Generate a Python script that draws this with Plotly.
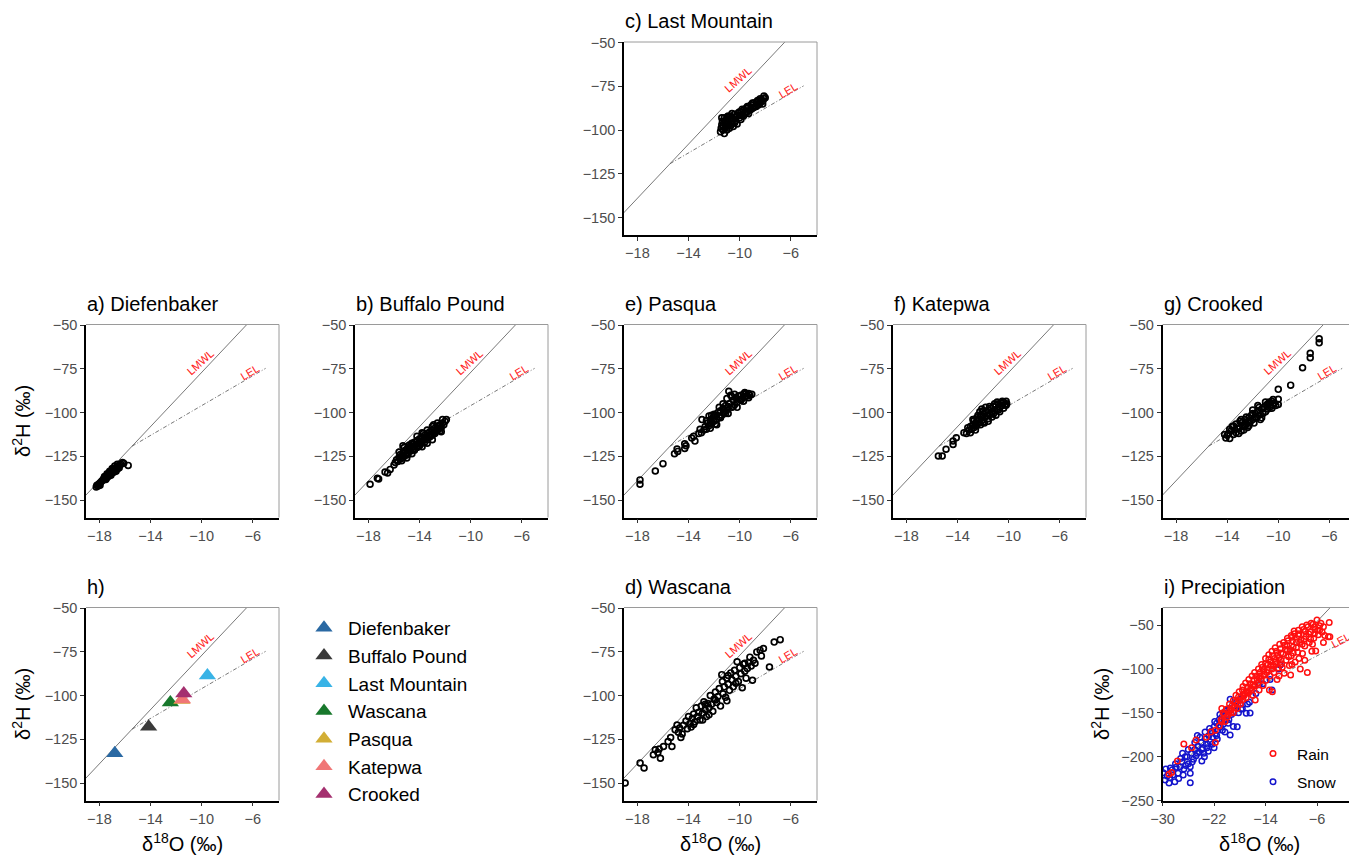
import plotly.graph_objects as go

W, H = 1349, 856

# ---------------- reference lines (slope, intercept) ----------------
LMWL = (7.75, 0.5)
LEL = (4.26, -53.4)
LEL_PRECIP = (3.86, -61.96)

# ---------------- data (d18O, d2H) ----------------
diefenbaker = [(-18.25, -142.5), (-18.2, -141.5), (-18.1, -142), (-18.05, -141), (-18.0, -140.5), (-17.95, -141.5),
               (-17.8, -139), (-17.7, -138.5), (-17.65, -137.5), (-17.6, -138), (-17.55, -137), (-17.5, -136.5),
               (-17.45, -137.5), (-17.4, -136), (-17.35, -135.5), (-17.3, -136.5), (-17.25, -135), (-17.2, -134.5),
               (-17.15, -135.5), (-17.1, -134), (-17.05, -133.5), (-17.0, -134.5), (-16.95, -133), (-16.9, -132.5),
               (-16.85, -134), (-16.8, -132), (-16.75, -133), (-16.7, -131.5), (-16.65, -132.5), (-16.6, -131),
               (-16.55, -132), (-16.5, -130.5), (-16.45, -131.5), (-16.4, -130), (-16.3, -129.5), (-16.2, -128.5),
               (-16.1, -129), (-15.75, -130.2), (-17.6, -136.5), (-17.4, -135), (-17.2, -133.5), (-17.0, -132),
               (-16.8, -130.5), (-16.6, -129.5), (-17.9, -139.8), (-17.5, -138.3), (-17.1, -135.8), (-16.7, -133.6)]

buffalo_pound = [(-17.87, -141), (-17.3, -137.5), (-17.2, -138), (-16.7, -134), (-16.5, -134.5), (-16.3, -132.5),
                 (-16.0, -130), (-15.9, -128.5), (-15.8, -127), (-15.7, -128), (-15.6, -125.5), (-15.5, -126.5),
                 (-15.5, -124), (-15.4, -125), (-15.3, -123), (-15.3, -119), (-15.2, -122.5), (-15.1, -124.5),
                 (-15.0, -121), (-15.0, -123.5), (-14.9, -120.5), (-14.8, -121.5), (-14.7, -119), (-14.7, -122),
                 (-14.6, -120), (-14.5, -118), (-14.4, -119.5), (-14.4, -117), (-14.3, -118.5), (-14.2, -116),
                 (-14.1, -117.5), (-14.0, -115), (-14.0, -119), (-13.9, -116.5), (-13.8, -114), (-13.7, -115.5),
                 (-13.6, -113), (-13.6, -117), (-13.5, -114.5), (-13.4, -112), (-13.3, -113.5), (-13.2, -111),
                 (-13.1, -112.5), (-13.0, -110), (-12.9, -111.5), (-12.8, -109), (-12.7, -110.5), (-12.6, -108),
                 (-12.5, -109.5), (-12.4, -107), (-12.3, -108.5), (-12.2, -106), (-12.1, -107), (-12.0, -105),
                 (-11.9, -104), (-15.3, -126), (-14.9, -124), (-14.5, -121), (-14.1, -119.5), (-13.8, -117.5),
                 (-13.4, -115.5), (-13.0, -113), (-12.6, -110), (-15.6, -122.5), (-15.4, -127.5), (-15.2, -120),
                 (-15.0, -126), (-14.8, -118.5), (-14.6, -123.5), (-14.4, -121.5), (-14.2, -120), (-14.2, -113.5),
                 (-14.0, -117), (-13.8, -111.5), (-13.8, -119.5), (-13.6, -115), (-13.4, -110), (-13.4, -117.5),
                 (-13.2, -114), (-13.0, -108), (-13.0, -115.5), (-12.8, -112), (-12.6, -106), (-12.4, -110.5),
                 (-12.2, -104), (-12.3, -111), (-12.9, -107), (-13.7, -112), (-14.6, -117.5), (-15.1, -121.5)]

pasqua = [(-17.8, -138.5), (-17.8, -141), (-16.6, -133.4), (-16.0, -129.2), (-15.1, -123.5), (-14.9, -120.8),
          (-14.85, -122.2), (-14.3, -117.8), (-14.3, -120.5), (-14.2, -119), (-13.75, -114.5), (-13.5, -116.3),
          (-13.6, -113.5), (-13.2, -112), (-12.95, -104), (-13.1, -109.5), (-13.0, -111.5), (-12.8, -110),
          (-12.7, -108), (-12.6, -109.5), (-12.5, -106), (-12.4, -107.5), (-12.3, -104.5), (-12.2, -106.5),
          (-12.1, -103), (-12.0, -105), (-11.9, -101.5), (-11.8, -104), (-11.7, -100), (-11.6, -102.5),
          (-11.5, -99), (-11.4, -101.5), (-11.3, -97.5), (-11.2, -100), (-11.1, -96), (-11.0, -98.5),
          (-11.0, -92), (-10.85, -87.8), (-10.7, -90), (-10.8, -95), (-10.6, -97), (-10.5, -93),
          (-10.4, -95.5), (-10.3, -91.5), (-10.2, -94), (-10.1, -90.5), (-10.0, -92.5), (-9.9, -90),
          (-9.8, -92), (-9.7, -89.5), (-9.6, -91), (-9.5, -89), (-9.4, -90.5), (-9.3, -89), (-9.2, -90),
          (-9.05, -89.5), (-12.3, -109), (-11.9, -106.5), (-11.5, -103), (-11.1, -100.5), (-10.9, -100.5),
          (-10.5, -96.5), (-12.2, -101.5), (-12.6, -104.5), (-12.0, -101), (-11.8, -107), (-11.3, -95),
          (-10.9, -96.5), (-10.6, -91), (-10.2, -97), (-9.9, -93), (-9.6, -88.5), (-9.3, -91.5), (-9.7, -93.5),
          (-10.4, -89.5), (-11.6, -97), (-12.4, -102)]

katepwa = [(-15.5, -124.8), (-15.2, -124.8), (-14.9, -121), (-14.35, -118.2), (-14.35, -116.3), (-14.1, -114.4),
           (-13.5, -111.5), (-13.3, -112), (-13.2, -108.6), (-13.1, -110), (-13.0, -108), (-12.9, -109.5),
           (-12.8, -107), (-12.7, -108.5), (-12.6, -106), (-12.5, -107.5), (-12.4, -104), (-12.3, -106),
           (-12.26, -99.5), (-12.2, -102), (-12.1, -104.5), (-12.0, -101), (-11.9, -103), (-11.8, -99.5),
           (-11.7, -102), (-11.6, -98.5), (-11.5, -101), (-11.4, -97.5), (-11.3, -100), (-11.2, -96.5),
           (-11.1, -99), (-11.0, -96), (-10.9, -98), (-10.8, -95), (-10.7, -97), (-10.6, -94.5), (-10.5, -96),
           (-10.4, -94), (-10.3, -95.5), (-10.2, -93.5), (-10.15, -95), (-12.0, -105.5), (-11.6, -103.5),
           (-11.2, -101), (-10.8, -98.5), (-12.5, -103), (-12.1, -98), (-12.8, -104), (-12.6, -110),
           (-12.4, -101.5), (-12.2, -107), (-12.0, -99), (-11.9, -106), (-11.8, -97), (-11.6, -105),
           (-11.5, -96.5), (-11.3, -102.5), (-11.1, -95), (-11.0, -101.5), (-10.9, -94), (-10.7, -99.5),
           (-10.5, -93.5), (-10.4, -97.5), (-10.2, -95.8), (-13.0, -111.5), (-12.7, -104.5)]

crooked = [(-14.1, -114.5), (-14.0, -113), (-13.9, -112), (-13.8, -114.8), (-13.7, -110.5), (-13.6, -108),
           (-13.5, -112.5), (-13.5, -107.7), (-13.4, -110), (-13.3, -111.5), (-13.2, -109), (-13.1, -112),
           (-13.0, -108.5), (-12.9, -110.5), (-12.8, -105.5), (-12.7, -107.5), (-12.6, -104), (-12.5, -106.5),
           (-12.4, -108.5), (-12.3, -103), (-12.2, -105.5), (-12.1, -101.5), (-12.0, -104), (-11.9, -106),
           (-11.8, -100.5), (-11.7, -103), (-11.6, -99), (-11.5, -101.5), (-11.4, -104), (-11.3, -98),
           (-11.2, -100.5), (-11.1, -97), (-11.0, -99.5), (-10.9, -95.5), (-10.8, -98), (-10.7, -94),
           (-10.6, -96.5), (-10.5, -93.5), (-10.4, -95.5), (-10.3, -94.5), (-10.2, -96), (-10.0, -95.3),
           (-10.0, -92.4), (-10.0, -86.7), (-9.03, -84.3), (-8.1, -74.3), (-7.5, -68.6), (-7.5, -66.1),
           (-6.8, -60.1), (-6.8, -57.8), (-12.0, -100.5), (-11.5, -97), (-12.6, -108), (-13.0, -105),
           (-13.3, -106.5), (-12.9, -104), (-12.5, -102.5), (-12.3, -107.5), (-12.0, -98.5), (-11.8, -102.5),
           (-11.6, -96), (-11.3, -103), (-11.0, -94), (-10.8, -95), (-10.5, -97.5), (-10.4, -92.5),
           (-13.8, -109.5), (-14.2, -112.5), (-12.7, -110)]

last_mountain = [(-11.5, -101), (-11.45, -99), (-11.4, -97), (-11.35, -95), (-11.3, -100), (-11.2, -93),
                 (-11.15, -96), (-11.1, -98.5), (-11.0, -92.5), (-10.95, -95), (-10.9, -97.5), (-10.8, -94),
                 (-10.7, -92), (-10.6, -96), (-10.5, -93.5), (-10.4, -91), (-10.3, -94.5), (-10.2, -92),
                 (-10.1, -90), (-10.0, -93), (-9.9, -89.5), (-9.8, -91.5), (-9.7, -88.5), (-9.6, -90.5),
                 (-9.5, -87.5), (-9.4, -89.5), (-9.3, -86.5), (-9.2, -88.5), (-9.1, -85.5), (-9.0, -87.5),
                 (-8.9, -84.5), (-8.8, -86.5), (-8.7, -84), (-8.6, -85.5), (-8.5, -83), (-8.4, -84.5),
                 (-8.3, -82.5), (-8.2, -83.5), (-8.1, -82), (-8.0, -81.5), (-10.7, -97.5), (-10.4, -96),
                 (-9.95, -91.5), (-11.0, -100), (-11.3, -97.5), (-11.2, -102), (-11.0, -97), (-10.9, -92),
                 (-10.8, -99), (-10.6, -93), (-10.5, -98), (-10.3, -92.5), (-10.2, -96.5), (-10.0, -89.5),
                 (-9.9, -94), (-9.8, -88), (-9.7, -92), (-9.5, -90), (-9.4, -86.5), (-9.3, -90.5), (-9.1, -88),
                 (-9.0, -84.5), (-8.9, -87), (-8.7, -86.5), (-8.6, -83), (-8.5, -85.5), (-8.4, -82), (-8.2, -85),
                 (-8.1, -80.5), (-11.4, -93), (-11.1, -94.5), (-10.6, -90.5)]

wascana = [(-18.96, -150), (-17.79, -138.6), (-17.48, -141.4), (-16.75, -133.8), (-16.6, -131), (-16.4, -132.5),
           (-16.2, -135.8), (-16.3, -130.5), (-15.96, -129.1), (-15.3, -129.1), (-15.6, -126.3), (-15.4, -124),
           (-15.05, -119.6), (-14.9, -116.8), (-14.8, -121), (-14.7, -118.5), (-14.5, -122), (-14.4, -117),
           (-14.2, -114.5), (-14.1, -119), (-14.0, -112), (-13.9, -116), (-13.7, -113), (-13.6, -110.5),
           (-13.5, -115), (-13.4, -107), (-13.3, -112), (-13.2, -109.5), (-13.1, -114), (-13.0, -106),
           (-12.9, -110), (-12.8, -103.5), (-12.7, -108), (-12.6, -112), (-12.5, -104.5), (-12.4, -107),
           (-12.3, -100), (-12.2, -105), (-12.1, -109), (-12.0, -102), (-11.9, -98), (-11.8, -104),
           (-11.7, -100.5), (-11.6, -96), (-11.5, -106), (-11.4, -88), (-11.35, -92), (-11.3, -99),
           (-11.2, -95), (-11.1, -101), (-11.0, -90), (-10.9, -93.5), (-10.8, -97), (-10.7, -87),
           (-10.6, -91), (-10.5, -95), (-10.4, -85.5), (-10.3, -89), (-10.2, -80.6), (-10.1, -92),
           (-10.0, -84), (-9.9, -87.5), (-9.8, -95.5), (-9.7, -82), (-9.6, -86), (-9.5, -90), (-9.4, -84.5),
           (-9.3, -81), (-9.2, -78), (-9.1, -83), (-9.0, -91.2), (-8.92, -79.8), (-8.8, -81.5), (-8.66, -75),
           (-8.4, -74), (-8.3, -77.3), (-8.14, -73.1), (-7.67, -83.6), (-7.3, -69.4), (-6.83, -68),
           (-12.9, -114), (-13.8, -118), (-14.6, -124), (-11.0, -103), (-12.4, -111), (-13.6, -116.5),
           (-12.7, -105), (-11.9, -102.5), (-10.9, -88.5), (-10.3, -93), (-9.6, -81.5)]

rain = [(-29.0, -220), (-28.6, -218), (-27.7, -205), (-26.7, -185.5), (-25.5, -190), (-24.8, -181), (-21.8, -184),
        (-21.8, -170), (-22.5, -172), (-23.2, -178), (-20.8, -160), (-20.8, -145), (-20.4, -152), (-20.0, -155),
        (-19.6, -148), (-19.2, -142), (-19.0, -150), (-18.7, -138), (-18.4, -145), (-18.2, -132), (-17.9, -140),
        (-17.6, -124), (-17.5, -135), (-17.2, -128), (-17.0, -133), (-16.8, -121), (-16.6, -127), (-16.4, -117),
        (-16.2, -124), (-16.0, -130), (-15.8, -112), (-15.6, -135.5), (-15.6, -119), (-15.4, -108), (-15.2, -116),
        (-15.0, -124), (-14.9, -104), (-14.7, -112), (-14.5, -98), (-14.4, -119), (-14.2, -106), (-14.0, -94),
        (-13.9, -113), (-13.7, -101), (-13.5, -89), (-13.4, -123.9), (-13.3, -108), (-13.1, -96), (-12.94, -126),
        (-12.9, -85), (-12.7, -104), (-12.5, -92), (-12.3, -80), (-12.2, -112), (-12.0, -99), (-11.9, -87),
        (-11.7, -77), (-11.5, -94), (-11.3, -83), (-11.1, -105), (-11.0, -73), (-10.8, -90), (-10.6, -79),
        (-10.5, -68), (-10.3, -96), (-10.1, -107), (-10.0, -85), (-9.9, -64), (-9.7, -75), (-9.56, -56.8),
        (-9.4, -92), (-9.2, -70), (-9.0, -81), (-8.8, -60), (-8.6, -100), (-8.5, -67), (-8.25, -82.3),
        (-8.1, -55), (-7.9, -74), (-7.7, -63), (-7.5, -104), (-7.4, -52), (-7.2, -70), (-7.0, -58), (-6.8, -80),
        (-6.6, -49), (-6.5, -65), (-6.3, -55), (-6.2, -79.6), (-6.0, -44.3), (-5.8, -61), (-5.6, -50.8),
        (-5.6, -55.8), (-5.2, -58), (-5.0, -70), (-4.8, -62), (-4.24, -63.3), (-4.0, -63.3), (-4.1, -47),
        (-13.6, -95), (-12.6, -88), (-11.6, -82), (-10.7, -73), (-9.8, -68), (-8.9, -62), (-7.8, -57),
        (-15.0, -110), (-16.0, -118), (-17.0, -126), (-18.0, -136), (-19.4, -150), (-14.3, -102), (-11.4, -98),
        (-12.4, -95), (-8.3, -72), (-7.0, -66), (-6.4, -60), (-13.0, -100), (-10.2, -78),
        (-21.2, -165), (-20.9, -158), (-20.6, -150), (-20.3, -160), (-20.1, -146), (-19.8, -152), (-19.6, -140),
        (-19.3, -146), (-19.0, -136), (-18.8, -144), (-18.6, -130), (-18.3, -140), (-18.1, -126), (-17.8, -132),
        (-17.5, -120), (-17.3, -130), (-17.1, -116), (-16.8, -126), (-16.6, -112), (-16.3, -122), (-16.1, -108),
        (-15.9, -120), (-15.7, -104), (-15.3, -112), (-15.1, -100), (-14.8, -108), (-14.6, -95), (-14.2, -100),
        (-14.0, -88), (-13.8, -104), (-13.5, -84), (-13.2, -92), (-13.0, -80), (-12.8, -96), (-12.5, -76),
        (-12.1, -84), (-11.8, -72), (-11.6, -90), (-11.2, -70), (-10.9, -78), (-10.6, -65), (-10.4, -86),
        (-10.0, -62), (-9.7, -82), (-9.5, -60), (-9.2, -76), (-8.9, -56), (-8.7, -70), (-8.3, -52), (-8.0, -66),
        (-7.6, -50), (-7.3, -60), (-6.9, -48), (-6.7, -72), (-6.4, -52), (-5.9, -56), (-5.4, -48), (-5.0, -52),
        (-8.8, -88), (-9.9, -95), (-7.9, -90), (-11.9, -108)]

snow = [(-29.9, -218.3), (-29.6, -226.6), (-29.3, -222), (-28.9, -224), (-28.1, -228.5), (-28.5, -215),
        (-27.9, -212), (-27.3, -211.5), (-27.0, -206), (-26.7, -214), (-26.5, -200), (-26.2, -200),
        (-26.0, -208), (-25.7, -229.7), (-25.7, -219), (-25.7, -211.5), (-25.5, -196), (-25.2, -203),
        (-25.0, -192), (-24.8, -199), (-24.5, -188), (-24.3, -195), (-24.0, -184), (-23.8, -190.5),
        (-23.6, -196.2), (-23.5, -200), (-23.3, -180), (-23.0, -186), (-22.8, -176), (-22.6, -183),
        (-22.4, -171), (-22.2, -178), (-22.0, -166), (-21.8, -174), (-21.6, -162), (-21.4, -170),
        (-21.2, -158), (-21.0, -166), (-20.8, -155), (-20.6, -163), (-20.4, -150), (-20.2, -158),
        (-20.0, -147), (-19.8, -162), (-19.6, -145), (-19.5, -134.7), (-19.5, -175.4), (-19.3, -152),
        (-19.0, -165.6), (-18.8, -142), (-18.4, -165.9), (-18.2, -150), (-18.0, -135), (-17.9, -140),
        (-17.6, -145), (-17.0, -150.6), (-16.5, -138), (-16.4, -150.3), (-16.0, -130), (-15.5, -128),
        (-14.4, -117), (-13.0, -124), (-13.3, -112), (-11.7, -95.5), (-12.0, -100), (-24.6, -176),
        (-22.9, -194), (-21.5, -180), (-20.3, -172), (-26.8, -221), (-27.6, -219), (-28.8, -213),
        (-23.9, -205), (-22.0, -190), (-17.5, -130), (-15.0, -118), (-29.5, -214), (-29.0, -230),
        (-28.4, -221), (-28.0, -208), (-27.5, -225), (-27.2, -202), (-26.9, -196), (-26.4, -210),
        (-26.0, -192), (-25.4, -206), (-25.0, -184), (-24.6, -196), (-24.2, -178), (-23.9, -192),
        (-23.4, -172), (-23.1, -190), (-22.7, -168), (-22.3, -186), (-21.9, -160), (-21.6, -176),
        (-21.1, -152), (-20.7, -170), (-20.2, -148), (-19.7, -158), (-18.9, -150), (-18.5, -138),
        (-17.8, -146), (-16.8, -140)]

lake_names = ["Diefenbaker", "Buffalo Pound", "Last Mountain", "Wascana", "Pasqua", "Katepwa", "Crooked"]
lake_mean_d18o = [-16.8, -14.15, -9.55, -12.45, -11.55, -11.5, -11.4]
lake_mean_d2h = [-133, -117.8, -88.5, -104, -102.5, -102.2, -98.8]
lake_colors = ["#2A69A3", "#3A3A3A", "#38B3E6", "#18782C", "#D2AE35", "#F07676", "#A4306F"]

lake_ticks_x = [-18, -14, -10, -6]
lake_ticks_y = [-150, -125, -100, -75, -50]
precip_ticks_x = [-30, -22, -14, -6]
precip_ticks_y = [-250, -200, -150, -100, -50]

# ---------------- layout geometry (pixels) ----------------
col_left = [86, 355, 624, 893, 1162.6]
row_top = [42, 324.5, 607.5]
PW, PH = 193, 193
LAKE_XR = [-19.05, -3.95]
LAKE_YR = [-160, -49.6]
PREC_XR = [-30, 0]
PREC_YR = [-250, -30]

FONT = "Liberation Sans, Arial, sans-serif"

fig = go.Figure()

# idx, title, col, row, kind, data
panels = [
    (1, "c) Last Mountain", 2, 0, "lake", last_mountain),
    (2, "a) Diefenbaker", 0, 1, "lake", diefenbaker),
    (3, "b) Buffalo Pound", 1, 1, "lake", buffalo_pound),
    (4, "e) Pasqua", 2, 1, "lake", pasqua),
    (5, "f) Katepwa", 3, 1, "lake", katepwa),
    (6, "g) Crooked", 4, 1, "lake", crooked),
    (7, "h)", 0, 2, "mean", None),
    (8, "d) Wascana", 2, 2, "lake", wascana),
    (9, "i) Precipiation", 4, 2, "precip", None),
]

annotations = []
shapes = []
layout_axes = {}


def px_to_paper_x(px):
    return px / W


def px_to_paper_y(py):
    return 1 - py / H


for idx, title, col, row, kind, data in panels:
    sfx = "" if idx == 1 else str(idx)
    xa, ya = "x" + sfx, "y" + sfx
    left = col_left[col]
    right = left + PW
    top = row_top[row]
    bottom = top + PH
    xr = list(PREC_XR) if kind == "precip" else list(LAKE_XR)
    yr = list(PREC_YR) if kind == "precip" else list(LAKE_YR)
    clipped = right > W
    if clipped:
        scale = (xr[1] - xr[0]) / PW
        xr[1] = xr[0] + (W - left) * scale
        right = W
    common = dict(showgrid=False, zeroline=False, showline=True, linecolor="black", linewidth=1.6,
                  ticks="outside", ticklen=4, tickwidth=1, tickcolor="#333333", automargin=False,
                  tickfont=dict(family=FONT, size=14.5, color="#4D4D4D"), fixedrange=True)
    layout_axes["xaxis" + sfx] = dict(common, domain=[px_to_paper_x(left), px_to_paper_x(right)], range=xr,
                                      anchor=ya,
                                      tickvals=precip_ticks_x if kind == "precip" else lake_ticks_x)
    layout_axes["yaxis" + sfx] = dict(common, domain=[px_to_paper_y(bottom), px_to_paper_y(top)], range=yr,
                                      anchor=xa,
                                      tickvals=precip_ticks_y if kind == "precip" else lake_ticks_y)
    # grey panel border (top and right)
    shapes.append(dict(type="line", xref=xa + " domain", yref=ya + " domain", x0=0, x1=1, y0=1, y1=1,
                       line=dict(color="#9A9A9A", width=1)))
    if not clipped:
        shapes.append(dict(type="line", xref=xa + " domain", yref=ya + " domain", x0=1, x1=1, y0=0, y1=1,
                           line=dict(color="#9A9A9A", width=1)))
    # panel title
    annotations.append(dict(text=title, xref="paper", yref="paper", x=px_to_paper_x(left - 1),
                            y=px_to_paper_y(top - 21), xanchor="left", yanchor="middle", showarrow=False,
                            font=dict(family=FONT, size=20, color="black")))

    # reference lines
    m1, b1 = LMWL
    m2, b2 = LEL_PRECIP if kind == "precip" else LEL
    x_int = (b2 - b1) / (m1 - m2)
    lmwl_x = [-29.2, 0] if kind == "precip" else [-30, 0]
    lel_x = [x_int, 0] if kind == "precip" else [x_int, -5]
    fig.add_trace(go.Scatter(x=lmwl_x, y=[m1 * v + b1 for v in lmwl_x], mode="lines",
                             line=dict(color="#555555", width=0.8), xaxis=xa, yaxis=ya,
                             showlegend=False, hoverinfo="skip"))
    fig.add_trace(go.Scatter(x=lel_x, y=[m2 * v + b2 for v in lel_x], mode="lines",
                             line=dict(color="#555555", width=0.8, dash="4px,2px,1px,2px"), xaxis=xa, yaxis=ya,
                             showlegend=False, hoverinfo="skip"))
    if kind == "precip":
        annotations.append(dict(text="LEL", xref=xa, yref=ya, x=-2.2, y=-67, showarrow=False, textangle=-28,
                                font=dict(family=FONT, size=11, color="#FF2020")))
    else:
        annotations.append(dict(text="LMWL", xref=xa, yref=ya, x=-10.1, y=-70.8, showarrow=False, textangle=-42,
                                font=dict(family=FONT, size=11, color="#FF2020")))
        annotations.append(dict(text="LEL", xref=xa, yref=ya, x=-6.2, y=-76.8, showarrow=False, textangle=-31,
                                font=dict(family=FONT, size=11, color="#FF2020")))

    if kind == "lake":
        fig.add_trace(go.Scatter(x=[p[0] for p in data], y=[p[1] for p in data], mode="markers",
                                 marker=dict(symbol="circle-open", size=5.8, color="black",
                                             line=dict(width=1.7, color="black")),
                                 xaxis=xa, yaxis=ya, showlegend=False, name=title))
    elif kind == "mean":
        for n, mx, my, c in zip(lake_names, lake_mean_d18o, lake_mean_d2h, lake_colors):
            fig.add_trace(go.Scatter(x=[mx], y=[my], mode="markers", name=n,
                                     marker=dict(symbol="triangle-up", size=15, color=c),
                                     xaxis=xa, yaxis=ya, showlegend=True, legend="legend"))
    else:
        fig.add_trace(go.Scatter(x=[p[0] for p in snow], y=[p[1] for p in snow], mode="markers", name="Snow",
                                 marker=dict(symbol="circle-open", size=5.5, color="#1414CC",
                                             line=dict(width=1.5, color="#1414CC")),
                                 xaxis=xa, yaxis=ya, showlegend=True, legend="legend2",
                                 legendgroup="snow", legendrank=2))
        fig.add_trace(go.Scatter(x=[p[0] for p in rain], y=[p[1] for p in rain], mode="markers", name="Rain",
                                 marker=dict(symbol="circle-open", size=5.5, color="#FF1010",
                                             line=dict(width=1.5, color="#FF1010")),
                                 xaxis=xa, yaxis=ya, showlegend=True, legend="legend2",
                                 legendgroup="rain", legendrank=1))

# axis titles
ylab = "δ<sup>2</sup>H (‰)"
xlab = "δ<sup>18</sup>O (‰)"
for cx, cy in [(21, row_top[1] + PH / 2), (21, row_top[2] + PH / 2), (1100, row_top[2] + PH / 2)]:
    annotations.append(dict(text=ylab, xref="paper", yref="paper", x=px_to_paper_x(cx), y=px_to_paper_y(cy),
                            xanchor="center", yanchor="middle", textangle=-90, showarrow=False,
                            font=dict(family=FONT, size=20, color="black")))
for cx in [col_left[0] + PW / 2, col_left[2] + PW / 2, col_left[4] + PW / 2]:
    annotations.append(dict(text=xlab, xref="paper", yref="paper", x=px_to_paper_x(cx), y=px_to_paper_y(842),
                            xanchor="center", yanchor="middle", showarrow=False,
                            font=dict(family=FONT, size=20, color="black")))

fig.update_layout(
    width=W, height=H, autosize=False,
    margin=dict(l=0, r=0, t=0, b=0, autoexpand=False),
    paper_bgcolor="white", plot_bgcolor="white",
    font=dict(family=FONT),
    annotations=annotations, shapes=shapes,
    legend=dict(x=px_to_paper_x(300), y=px_to_paper_y(609), xanchor="left", yanchor="top",
                bgcolor="rgba(0,0,0,0)", itemwidth=38, font=dict(family=FONT, size=19, color="black"),
                tracegroupgap=0),
    legend2=dict(x=px_to_paper_x(1249), y=px_to_paper_y(737), xanchor="left", yanchor="top",
                 bgcolor="rgba(0,0,0,0)", itemwidth=38, traceorder="grouped", tracegroupgap=5,
                 font=dict(family=FONT, size=15.5, color="black")),
    **layout_axes,
)

fig.write_html("out.html",
               config={"displayModeBar": False},
               post_script="document.body.style.margin='0';document.body.style.padding='0';"
                           "document.body.style.overflow='hidden';")
